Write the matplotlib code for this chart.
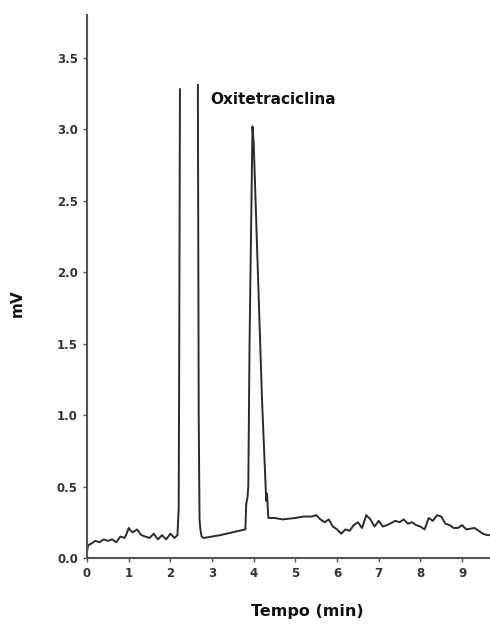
import numpy as np
import matplotlib
matplotlib.use("Agg")
import matplotlib.pyplot as plt

# retention time (min) and signal (mV); NaN marks the off-scale gap between the two solvent peaks
time_min = [0.0, 0.03, 0.1, 0.2, 0.3, 0.4, 0.5, 0.6, 0.7, 0.8, 0.9, 0.95, 1.0, 1.05, 1.1, 1.2,
            1.3, 1.4, 1.5, 1.6, 1.7, 1.8, 1.9, 2.0, 2.1, 2.17, 2.2, 2.21, 2.23,
            2.4,
            2.66, 2.68, 2.70, 2.72, 2.75, 2.8, 3.0, 3.2, 3.5, 3.8, 3.82, 3.85, 3.87,
            3.9, 3.97, 4.0, 4.1, 4.2, 4.3, 4.32, 4.35, 4.5, 4.7, 5.0, 5.2, 5.4, 5.5,
            5.6, 5.7, 5.8, 5.9, 6.0, 6.1, 6.2, 6.3, 6.4, 6.5, 6.6, 6.7, 6.8, 6.9,
            7.0, 7.1, 7.2, 7.4, 7.5, 7.6, 7.7, 7.8, 7.9, 8.0, 8.1, 8.2, 8.3, 8.4,
            8.5, 8.6, 8.7, 8.8, 8.9, 9.0, 9.1, 9.3, 9.4, 9.5, 9.6, 9.7]
signal_mv = [0.05, 0.09, 0.10, 0.12, 0.11, 0.13, 0.12, 0.13, 0.11, 0.15, 0.14, 0.17, 0.21, 0.19, 0.18, 0.20,
             0.16, 0.15, 0.14, 0.17, 0.13, 0.16, 0.13, 0.17, 0.14, 0.16, 0.35, 1.2, 3.28,
             np.nan,
             3.31, 1.0, 0.27, 0.20, 0.15, 0.14, 0.15, 0.16, 0.18, 0.20, 0.38, 0.42, 0.50,
             1.5, 3.02, 2.9, 2.0, 1.1, 0.40, 0.45, 0.28, 0.28, 0.27, 0.28, 0.29, 0.29, 0.30,
             0.27, 0.25, 0.27, 0.22, 0.20, 0.17, 0.20, 0.19, 0.23, 0.25, 0.21, 0.30, 0.27, 0.22,
             0.26, 0.22, 0.23, 0.26, 0.25, 0.27, 0.24, 0.25, 0.23, 0.22, 0.20, 0.28, 0.26, 0.30,
             0.29, 0.24, 0.23, 0.21, 0.21, 0.23, 0.20, 0.21, 0.19, 0.17, 0.16, 0.16]

x_ticks = [0, 1, 2, 3, 4, 5, 6, 7, 8, 9]
y_ticks = [0.0, 0.5, 1.0, 1.5, 2.0, 2.5, 3.0, 3.5]
peak_label = "Oxitetraciclina"

fig = plt.figure(figsize=(4.9, 6.24), dpi=100)
ax = fig.add_axes([0.1776, 0.1058, 0.8224, 0.8702])
ax.plot(time_min, signal_mv, color="#2b2b2b", lw=1.4)
ax.set_xlim(0, 9.67)
ax.set_ylim(0, 3.8)
ax.set_xticks(x_ticks)
ax.set_yticks(y_ticks)
ax.set_yticklabels([f"{v:.1f}" for v in y_ticks])
for s in ["top", "right"]:
    ax.spines[s].set_visible(False)
for s in ["left", "bottom"]:
    ax.spines[s].set_color("#555555")
    ax.spines[s].set_linewidth(1.5)
ax.tick_params(axis="both", length=3, width=1, color="#555555", labelsize=8.5,
               labelcolor="#333333")
for lab in ax.get_xticklabels() + ax.get_yticklabels():
    lab.set_fontweight("bold")
ax.set_xlabel("Tempo (min)", fontsize=11.5, fontweight="bold", color="#111111")
ax.xaxis.set_label_coords(0.546, -0.085)
ax.set_ylabel("mV", fontsize=11, fontweight="bold", color="#111111")
ax.yaxis.set_label_coords(-0.155, 0.47)
ax.text(2.95, 3.18, peak_label, fontsize=11, fontweight="bold", color="#111111")
fig.savefig("out.png", dpi=100)
